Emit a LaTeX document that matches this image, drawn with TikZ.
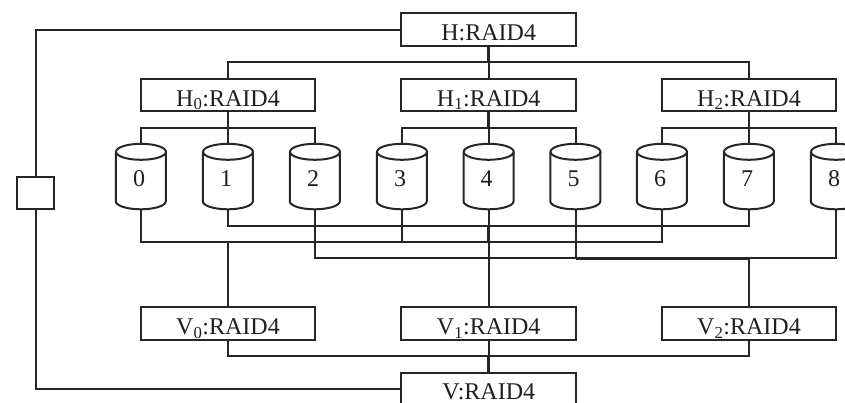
\documentclass[tikz,border=0pt]{standalone}
\usepackage{fontspec}
\setmainfont{Liberation Serif}
\tikzset{
  conn/.style={draw=black!85,line width=2pt,line join=miter},
  heavy/.style={draw=black!85,line width=2.8pt},
  raidbox/.style={draw=black!85,line width=2pt,rectangle,minimum width=174.5pt,minimum height=32.5pt,inner sep=0pt,text height=22pt,text depth=0pt,text=black!88,font=\fontsize{24}{28}\selectfont},
  disk/.style={rectangle,minimum width=50pt,minimum height=65.5pt,inner sep=0pt,text height=19.5pt,text depth=0pt,text=black!88,font=\fontsize{24}{28}\selectfont},
  diskline/.style={draw=black!85,line width=2pt},
  switchbox/.style={draw=black!85,line width=2pt,rectangle,minimum width=37.5pt,minimum height=32.5pt,inner sep=0pt}
}
\begin{document}
\begin{tikzpicture}[x=1pt,y=-1pt]
\clip (0,0) rectangle (845,402);
% boxes
\node[raidbox] (H) at (488.7,29.7) {H:RAID4};
\node[raidbox] (H0) at (228,95) {H\textsubscript{0}:RAID4};
\node[raidbox] (H1) at (488.7,95) {H\textsubscript{1}:RAID4};
\node[raidbox] (H2) at (749,95) {H\textsubscript{2}:RAID4};
\node[raidbox] (V0) at (228,323.7) {V\textsubscript{0}:RAID4};
\node[raidbox] (V1) at (488.7,323.7) {V\textsubscript{1}:RAID4};
\node[raidbox] (V2) at (749,323.7) {V\textsubscript{2}:RAID4};
\node[raidbox,text height=21pt] (V) at (488.7,389.2) {V:RAID4};
\node[switchbox] (S) at (35.7,193.2) {};
% disks: a named node carries the digit and the anchors, the outline is drawn round it
\foreach \n/\x in {0/141,1/228,2/315,3/402,4/488.7,5/575.5,6/662,7/749,8/836}{
  \node[disk] (d\n) at (\x,176.75) {\hspace*{-4pt}\n};
  \draw[diskline] (d\n.north) ++(0,8) ellipse [x radius=25,y radius=8];
  \draw[diskline] (d\n.north west) ++(0,8) -- ++(0,49.5)
    arc [start angle=180,end angle=0,x radius=25,y radius=8] -- ++(0,-49.5);
}
% bus levels
\coordinate (topbus) at (0,62);
\coordinate (hbus) at (0,127.5);
\coordinate (busA) at (0,225.7);
\coordinate (busB) at (0,242);
\coordinate (busC) at (0,258.3);
\coordinate (botbus) at (0,356);
\coordinate (stemB) at (0,275);
% H tree
\draw[conn] (H0.north) -- (H0.north |- topbus) -- (H2.north |- topbus) -- (H2.north);
\draw[conn] (H1.north) -- (H.south);
\draw[heavy] (H.south) -- (H.south |- topbus);
\foreach \b/\l/\m/\r in {H0/d0/d1/d2,H1/d3/d4/d5,H2/d6/d7/d8}{
  \draw[conn] (\l.north) -- (\l.north |- hbus) -- (\r.north |- hbus) -- (\r.north);
  \draw[conn] (\b.south) -- (\m.north);
  \draw[heavy] (\b.south) -- (\b.south |- hbus);
}
% lower buses
\draw[conn] (d1.south) -- (d1.south |- busA) -- (d7.south |- busA) -- (d7.south);
\draw[conn] (d0.south) -- (d0.south |- busB) -- (d6.south |- busB) -- (d6.south);
\draw[conn] (d3.south) -- (d3.south |- busB);
\draw[conn] (d2.south) -- (d2.south |- busC) -- (d8.south |- busC) -- (d8.south);
\draw[conn] (d5.south) -- (d5.south |- busC);
\draw[conn] (d4.south) -- (V1.north);
\draw[heavy] (d4.south |- busA) -- (d4.south |- busB);
\draw[heavy] (V0.north |- busB) -- (d3.south |- busB);
\draw[heavy] (V0.north |- busB) -- (V0.north |- stemB);
\draw[conn] (V0.north |- busB) -- (V0.north);
\draw[heavy] (d5.south |- busC) -- (V2.north |- busC) -- (V2.north);
% V tree
\draw[conn] (V0.south) -- (V0.south |- botbus) -- (V2.south |- botbus) -- (V2.south);
\draw[conn] (V1.south) -- (V.north);
\draw[heavy] (V.north |- botbus) -- (V.north);
% parity links
\draw[conn] (H.west) -| (S.north);
\draw[conn] (S.south) |- (V.west);
\end{tikzpicture}
\end{document}
